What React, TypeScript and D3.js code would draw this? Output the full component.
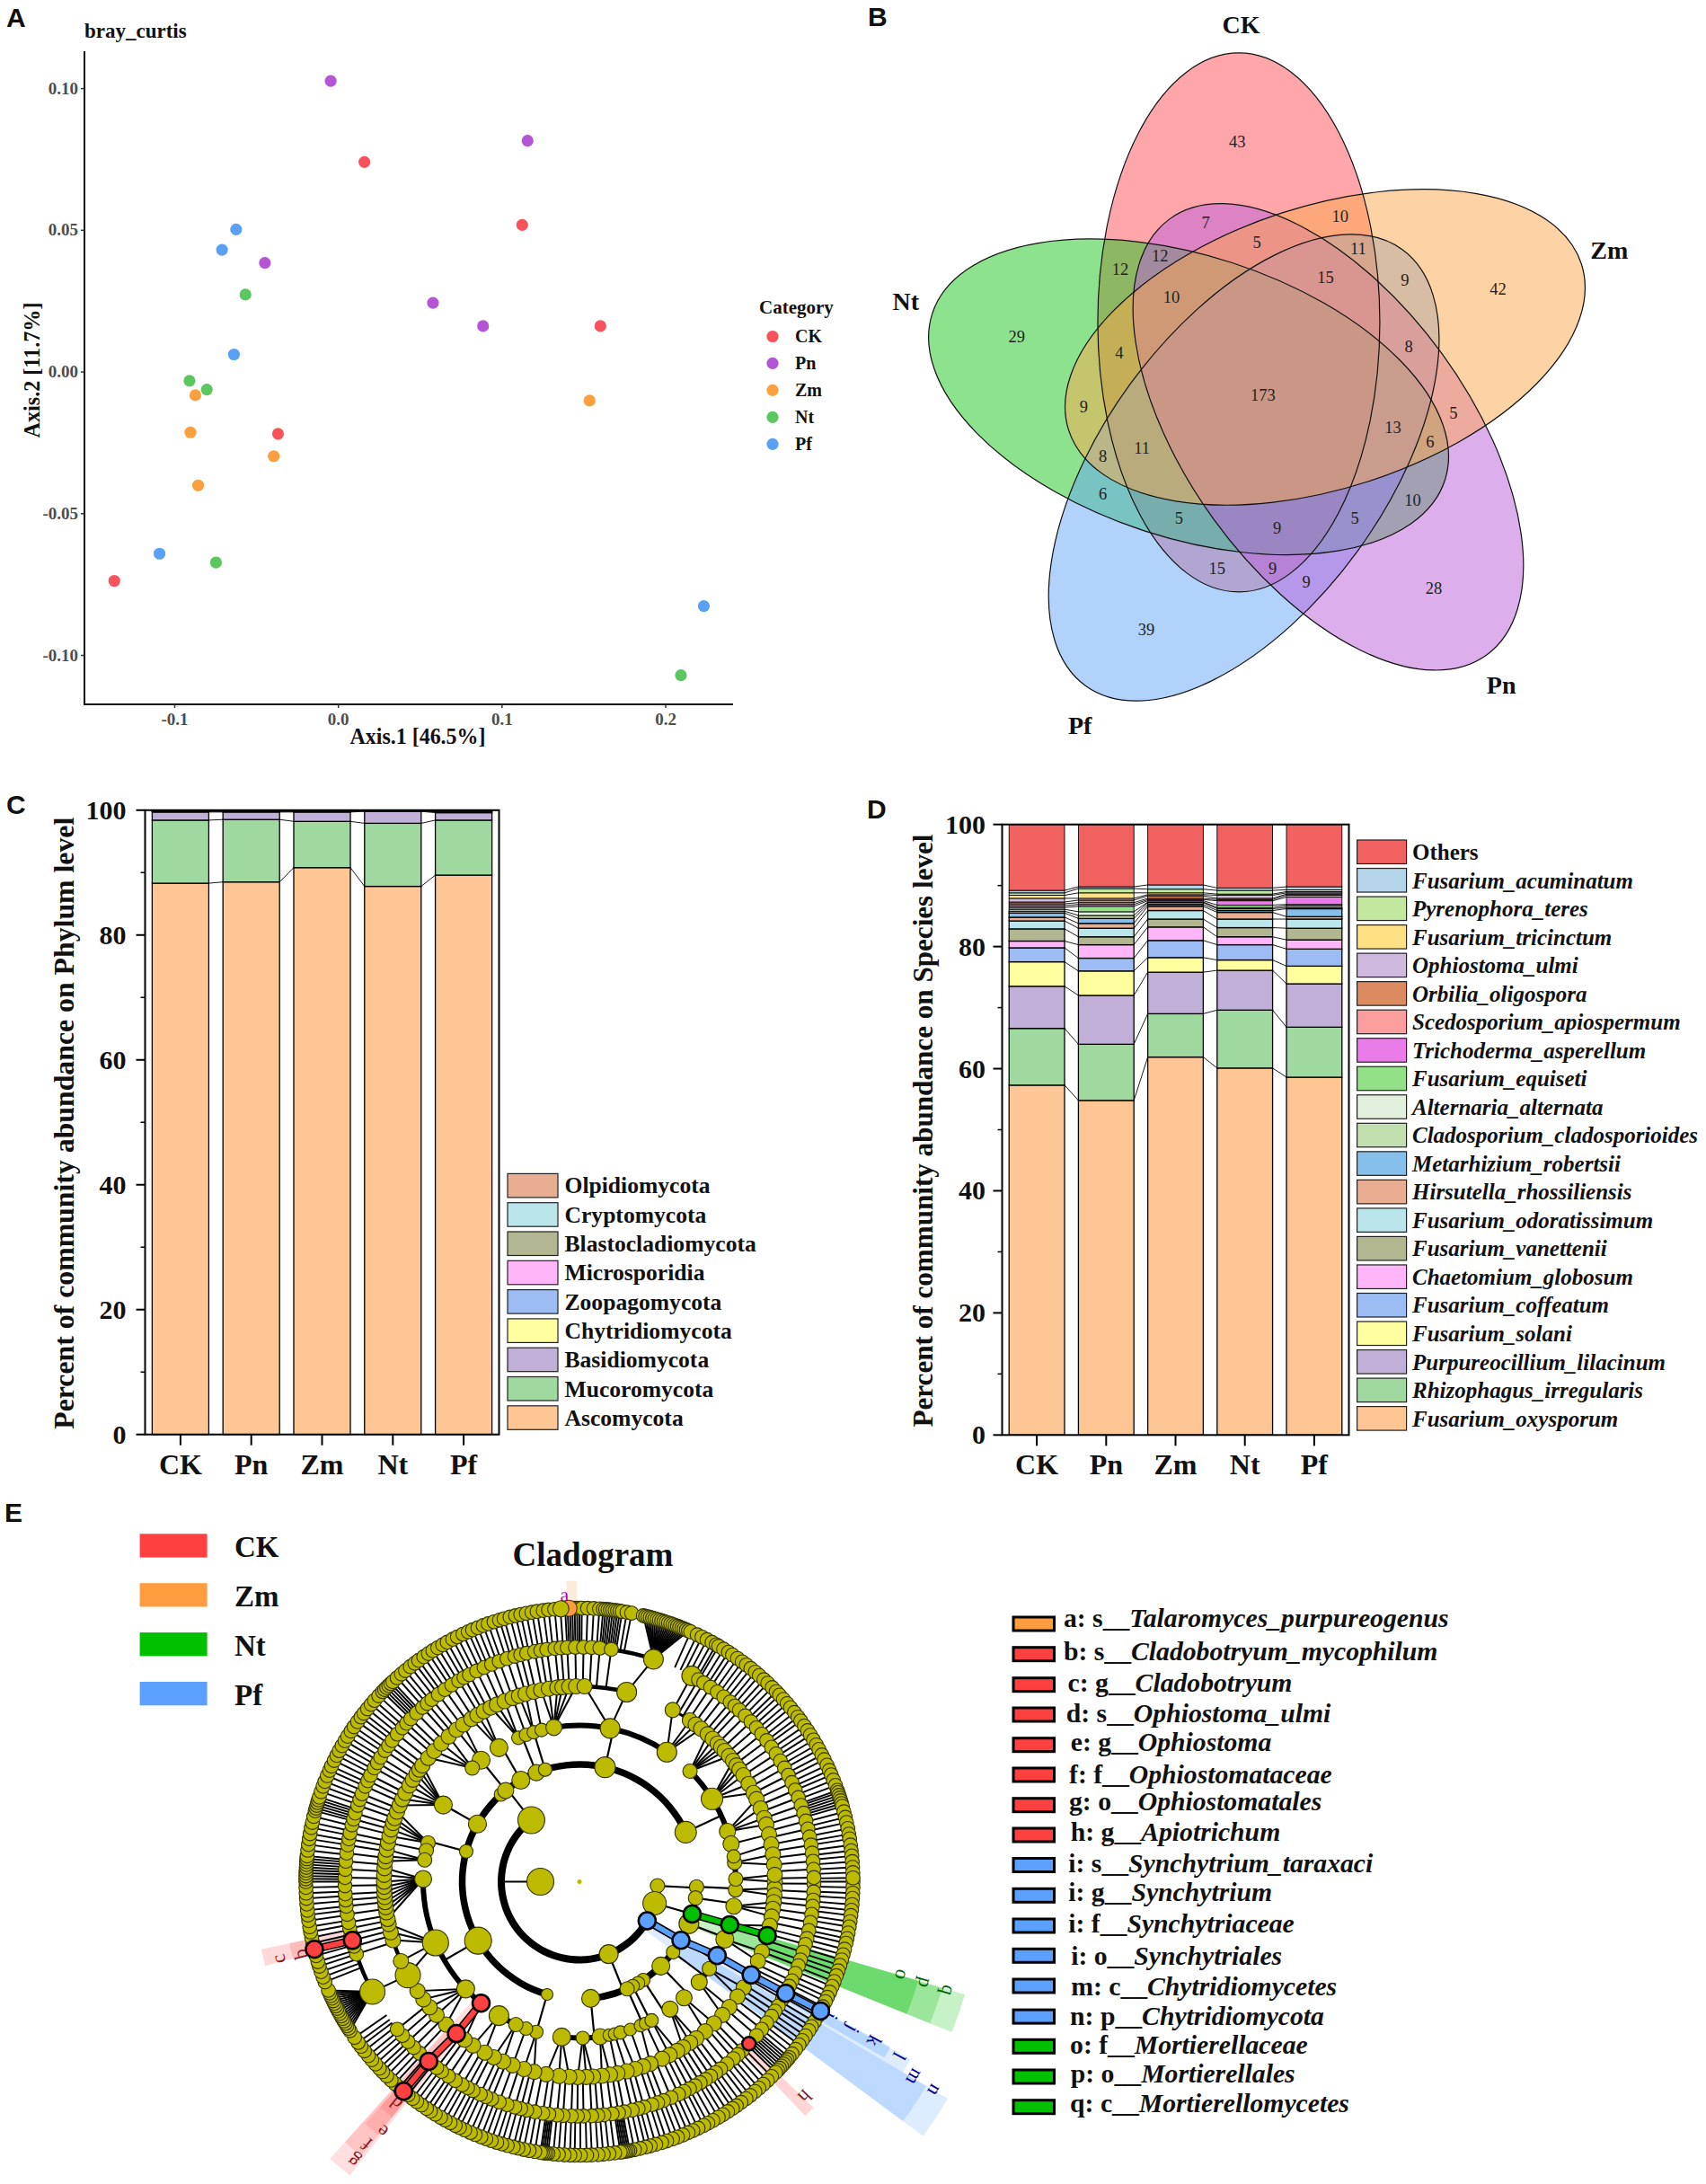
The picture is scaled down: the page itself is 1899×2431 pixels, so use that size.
import React from "react";
import * as d3 from "d3";

// ---------- Panel A data ----------
const ordCategories = ["CK", "Pn", "Zm", "Nt", "Pf"];
const ordColors = ["#F8535A", "#B455D6", "#FB9F3F", "#5CC761", "#5AA1F5"];
const ordCK = [[0.0159, 0.0741], [0.1123, 0.0519], [0.1601, 0.0162], [-0.0369, -0.0218], [-0.1369, -0.0737]];
const ordPn = [[-0.0047, 0.1027], [0.1156, 0.0816], [-0.0449, 0.0385], [0.0578, 0.0244], [0.0884, 0.0162]];
const ordZm = [[-0.0874, -0.0082], [-0.0904, -0.0213], [-0.0395, -0.0297], [-0.0857, -0.04], [0.1535, -0.0101]];
const ordNt = [[-0.0568, 0.0273], [-0.091, -0.0031], [-0.0804, -0.0062], [-0.0748, -0.0672], [0.2093, -0.107]];
const ordPf = [[-0.0625, 0.0503], [-0.0711, 0.0431], [-0.0638, 0.0062], [-0.1093, -0.0641], [0.2233, -0.0826]];
const ordSeries = [ordCK, ordPn, ordZm, ordNt, ordPf];
const xTicksA = [-0.1, 0, 0.1, 0.2];
const yTicksA = [0.1, 0.05, 0, -0.05, -0.1];

// ---------- Panel B data ----------
const vennCounts = [43, 7, 10, 5, 11, 12, 12, 15, 9, 10, 42, 29, 4, 8, 173, 9, 5, 13, 6, 11, 8, 6, 10, 5, 5, 9, 15, 9, 9, 28, 39];
const vennCountAt = [[705, 291], [647, 457], [894, 445], [741, 498], [927, 511], [563, 526], [490, 553], [867, 570], [1013, 576], [584, 610], [1184, 595], [300, 692], [488, 725], [1020, 713], [752, 812], [423, 836], [1102, 848], [991, 878], [1059, 908], [530, 920], [458, 938], [458, 1014], [1027, 1028], [598, 1064], [921, 1064], [778, 1084], [668, 1167], [770, 1167], [832, 1196], [1066, 1209], [538, 1293]];
const vennSets = ["CK", "Zm", "Pn", "Pf", "Nt"];
const vennFill = ["#FF4D55", "#FBA84C", "#BB5DD9", "#62A6F7", "#1CC81C"];
const vennSetAt = [[712, 52], [1388, 514], [1190, 1407], [416, 1491], [96, 619]];
const vennDrawOrder = [0, 4, 3, 2, 1];

// ---------- Panel C data (cumulative tops) ----------
const barGroups = ["CK", "Pn", "Zm", "Nt", "Pf"];
const phylumNames = ["Ascomycota", "Mucoromycota", "Basidiomycota", "Chytridiomycota", "Zoopagomycota", "Microsporidia", "Blastocladiomycota", "Cryptomycota", "Olpidiomycota"];
const phylumColors = ["#FDC694", "#9FD99F", "#C0AFD7", "#FFFFA0", "#9DBCF4", "#FEB6F9", "#B2B691", "#B9E5EB", "#E9AE91"];
const phylumAsco = [88.3, 88.5, 90.8, 87.8, 89.6];
const phylumMuco = [98.4, 98.5, 98.2, 97.9, 98.4];
const phylumBasi = [99.7, 99.7, 99.7, 99.8, 99.6];
const phylumChyt = [99.8, 99.8, 99.8, 99.85, 99.75];
const phylumZoop = [99.85, 99.85, 99.85, 99.9, 99.8];
const phylumMicr = [99.9, 99.9, 99.9, 99.92, 99.85];
const phylumBlas = [99.93, 99.93, 99.93, 99.95, 99.9];
const phylumCryp = [99.96, 99.96, 99.96, 99.97, 99.95];
const phylumOlpi = [100, 100, 100, 100, 100];
const phylumTops = [phylumAsco, phylumMuco, phylumBasi, phylumChyt, phylumZoop, phylumMicr, phylumBlas, phylumCryp, phylumOlpi];

// ---------- Panel D data (cumulative tops) ----------
const speciesNames = ["Fusarium_oxysporum", "Rhizophagus_irregularis", "Purpureocillium_lilacinum", "Fusarium_solani", "Fusarium_coffeatum", "Chaetomium_globosum", "Fusarium_vanettenii", "Fusarium_odoratissimum", "Hirsutella_rhossiliensis", "Metarhizium_robertsii", "Cladosporium_cladosporioides", "Alternaria_alternata", "Fusarium_equiseti", "Trichoderma_asperellum", "Scedosporium_apiospermum", "Orbilia_oligospora", "Ophiostoma_ulmi", "Fusarium_tricinctum", "Pyrenophora_teres", "Fusarium_acuminatum", "Others"];
const speciesColors = ["#FDC694", "#9FD99F", "#C0AFD7", "#FFFFA0", "#9DBCF4", "#FEB6F9", "#B2B691", "#B9E5EB", "#E9AE91", "#86BFE9", "#C2DFB0", "#E4F0DE", "#93E088", "#E97CE8", "#FC9E9E", "#DB8B5F", "#D0B9DE", "#FFE184", "#C2E8A0", "#B2D3E8", "#F0615F"];
const spOxy = [57.3, 54.8, 61.9, 60.1, 58.6];
const spRhi = [66.6, 64.0, 69.0, 69.6, 66.8];
const spPur = [73.5, 72.0, 75.8, 76.1, 73.9];
const spSol = [77.5, 76.0, 78.2, 77.8, 76.8];
const spCof = [79.8, 78.1, 81.0, 80.3, 79.6];
const spCha = [80.9, 80.3, 83.2, 81.6, 81.1];
const spVan = [82.9, 81.6, 84.5, 83.1, 83.0];
const spOdo = [84.2, 83.0, 85.9, 84.5, 84.5];
const spHir = [84.8, 83.8, 86.6, 85.6, 84.9];
const spMet = [85.5, 84.6, 86.9, 85.9, 86.2];
const spCla = [85.8, 85.1, 87.2, 86.2, 86.4];
const spAlt = [86.1, 85.7, 87.3, 86.4, 86.7];
const spEqu = [86.4, 86.6, 87.5, 86.8, 86.9];
const spTri = [86.7, 86.9, 87.7, 87.5, 88.1];
const spSce = [87.0, 87.2, 87.9, 87.7, 88.4];
const spOrb = [87.3, 87.6, 88.3, 87.9, 88.6];
const spUlm = [87.9, 87.9, 88.5, 88.4, 88.8];
const spTci = [88.4, 88.8, 88.8, 88.6, 89.0];
const spTer = [88.8, 89.5, 89.4, 89.2, 89.3];
const spAcu = [89.2, 89.8, 90.1, 89.6, 89.8];
const spOth = [100, 100, 100, 100, 100];
const speciesTops = [spOxy, spRhi, spPur, spSol, spCof, spCha, spVan, spOdo, spHir, spMet, spCla, spAlt, spEqu, spTri, spSce, spOrb, spUlm, spTci, spTer, spAcu, spOth];

// ---------- Panel E data ----------
const groupNames = ["CK", "Zm", "Nt", "Pf"];
const groupColors = ["#FF4040", "#FF9C40", "#00C000", "#5BA0FF"];
const cladeLetters = ["a", "b", "c", "d", "e", "f", "g", "h", "i", "i", "i", "i", "m", "n", "o", "p", "q"];
const cladeRanks = ["s", "s", "g", "s", "g", "f", "o", "g", "s", "g", "f", "o", "c", "p", "f", "o", "c"];
const cladeTaxa = ["Talaromyces_purpureogenus", "Cladobotryum_mycophilum", "Cladobotryum", "Ophiostoma_ulmi", "Ophiostoma", "Ophiostomataceae", "Ophiostomatales", "Apiotrichum", "Synchytrium_taraxaci", "Synchytrium", "Synchytriaceae", "Synchytriales", "Chytridiomycetes", "Chytridiomycota", "Mortierellaceae", "Mortierellales", "Mortierellomycetes"];
const cladeGroup = [1, 0, 0, 0, 0, 0, 0, 0, 3, 3, 3, 3, 3, 3, 2, 2, 2];

// tree: angle in degrees clockwise from +x; [angle, node size, parent angle]
const treeLevel2: number[][] = [[3, 8], [16, 13], [30, 10], [68, 10.5], [232, 15]];
const treeLevel3: number[][] = [[106, 6.5, 232], [149.8, 15, 232], [195, 7.5, 232], [209.5, 10, 232], [228, 7.5, 232], [231, 9, 232], [240, 10, 232], [248.4, 9, 232], [253, 7.5, 232], [282.6, 11.5, 232], [335, 12, 232], [37, 7.5, 68], [46, 10, 68], [57, 7.5, 68], [60, 7.5, 68], [63, 7.5, 68], [66, 8, 68], [84.5, 10, 68], [30, 9, 30], [16, 9, 16], [21, 11, 16], [2.5, 8, 3], [8, 8, 3]];
const treeLevel4: number[][] = [[315, 8, 335], [328, 12, 335], [341.2, 9, 335], [346, 9, 335], [247, 7.5, 253], [250, 7.5, 253], [253, 7.5, 253], [256, 7.5, 253], [260.6, 9, 282.6], [281.3, 11, 282.6], [304, 11, 282.6], [239, 10, 248.4], [231, 10, 240], [226.7, 8, 231], [209.4, 10, 209.5], [194.4, 8, 195], [191.5, 8, 195], [188, 8, 195], [181, 9.5, 149.8], [157, 14.5, 149.8], [136.7, 10, 149.8], [129, 8, 149.8], [106, 7.5, 106], [110, 7.5, 106], [114, 8, 106], [121, 11, 106], [96.5, 10, 84.5], [88.8, 7.5, 84.5], [82.4, 9, 84.5], [79, 7, 66], [77, 7, 66], [74.8, 7.5, 66], [71, 7, 66], [67, 7, 66], [65, 7, 66], [62.5, 7.5, 63], [54.6, 9, 57], [48, 9, 46], [40, 9, 37], [33.8, 8, 37], [28.2, 8, 30], [16, 8, 16], [21.6, 10, 21], [9, 9, 8], [3, 8, 2.5], [359, 8, 2.5], [353, 8, 2.5], [350.7, 7.5, 2.5]];
const treeLevel5 = [0, 2, 4, 6, 8, 10.3, 13, 16.1, 21, 24, 28.5, 32.8, 36, 39.9, 43, 46.5, 50, 53.3, 55.5, 58, 60, 62.5, 65, 68.7, 71, 73.4, 76, 78.8, 81, 83.4, 86, 88, 90.5, 93, 96, 99.8, 103.4, 106.5, 110, 113, 116, 119, 123, 126, 129, 133, 137, 140, 143, 146, 151.4, 156, 162.6, 165, 167.5, 169, 171, 172.5, 174, 175.5, 177, 178.5, 180, 182, 184, 186, 187.5, 189.5, 191.5, 193.5, 195.5, 197.5, 199, 201, 203, 205, 207, 209.5, 211.5, 213.5, 215, 216.5, 219.3, 222, 225, 228, 231, 233.5, 236.4, 238.5, 240.7, 243, 245, 247.5, 250, 252, 254, 256.5, 258.7, 261, 263.5, 265, 267, 269, 271.5, 284, 298.5, 304.4, 306.5, 308.5, 311, 313, 315, 316.5, 318, 320, 321.8, 323.5, 325, 327, 330, 333, 335, 338, 341, 343, 346, 349, 352, 355, 358];
const treeLevel6 = [0.5, 2.5, 4.5, 6, 8, 10, 12, 14, 15.5, 17.5, 19.5, 21, 23, 25, 26.5, 28.4, 30, 32, 33.5, 35, 37, 39, 41, 43.7, 46, 47.5, 49, 51, 53, 54.5, 56, 57.5, 59, 60.5, 62, 63.5, 65, 67, 69, 70.5, 72, 74, 75.5, 77, 79, 80.4, 82, 84, 85.5, 87, 89, 90.5, 92, 94, 95.5, 97.5, 99, 101, 103, 104.5, 106, 108, 110, 112, 113.5, 115, 117, 118.5, 120, 122, 124, 126, 127.5, 130, 133, 135, 137, 139, 141, 152, 162, 164, 165.5, 167, 168.5, 170, 172, 174, 175.5, 177, 179, 181, 183, 185, 187, 189, 190.5, 192, 194, 195.5, 197, 199, 200.5, 202, 204, 205.5, 207, 209, 210.5, 212, 214, 215.5, 217, 219, 221, 222.5, 224, 226, 228, 229.5, 231, 233, 235, 237, 239, 240.5, 242, 244, 246, 248, 250, 252, 254, 255.5, 257, 259, 260.5, 262, 264, 265.5, 267, 269, 271, 273, 275, 277.8, 288.4, 298.6, 300.5, 302, 304, 306, 308, 310, 311.5, 313, 315, 317, 319, 321, 323, 325, 327, 329, 331, 333, 335, 337, 339, 341, 343, 345, 347, 349, 351, 353, 355, 357, 359];
const treeLevel7 = [0, 1.2, 2.4, 3.5, 4.8, 6, 7.1, 8.4, 9.5, 10.8, 12, 13, 14.3, 15.5, 16.6, 17.8, 19, 20.1, 21.4, 22.5, 23.8, 25, 26, 27.2, 28.2, 29.5, 30.8, 32, 33, 34.3, 35.5, 36.6, 37.8, 39, 40, 40.6, 41.2, 41.8, 42.4, 43, 43.6, 44.2, 45.4, 46.6, 47.8, 49, 50.1, 51.4, 52.5, 53.8, 55, 56, 57.2, 58.4, 59.5, 60.8, 62, 63, 64.3, 65.5, 66.6, 67.8, 69, 70.1, 71.4, 72.5, 73.8, 75, 76, 77.2, 78.4, 79.4, 79.8, 80.2, 80.6, 81, 81.4, 82.6, 83.8, 85, 86.1, 87.4, 88.5, 89.8, 91, 92, 93.2, 94.4, 95.5, 96.6, 97, 97.4, 97.8, 98.2, 99.4, 100.6, 101.8, 103, 104, 105.3, 106.5, 107.6, 108.8, 110, 111.1, 112.4, 113.5, 114.8, 116, 117, 118.2, 119.4, 120.5, 121.8, 123, 124, 125.3, 126.5, 127.6, 128.8, 129.9, 131.2, 132.4, 133.5, 134.8, 136, 137, 138.2, 139.4, 140.5, 141.8, 143, 144, 145.3, 147, 147.6, 148.2, 148.8, 149.4, 150, 150.6, 151.2, 151.8, 152.4, 153, 153.6, 154.2, 154.8, 155.4, 156, 156.6, 158.5, 159.6, 160.8, 162, 163, 164.3, 165.7, 167, 168.2, 169.4, 170.5, 171.8, 173, 174, 175.3, 176.5, 177.6, 178.8, 180, 180.6, 181.2, 181.8, 182.4, 183, 183.6, 184.2, 184.8, 185.4, 186.6, 187.8, 189, 190.1, 191.4, 192.5, 193.8, 195, 195.6, 196.2, 196.8, 197.4, 198, 199.2, 200.4, 201.5, 202.8, 204, 205, 206.3, 207.5, 208.6, 209.8, 211, 212.1, 213.4, 214.5, 215.8, 217, 218, 219.2, 220.4, 221.5, 222.8, 224, 224.6, 225.2, 225.8, 226.4, 227, 228.2, 229.4, 230.5, 231.8, 233, 234, 235.3, 236.5, 237.6, 238.8, 240, 241.1, 242.4, 243.5, 244.8, 246, 247, 248.2, 249.4, 250.5, 251.8, 253, 254, 255.3, 256.5, 257.6, 258.8, 260, 261.1, 262.4, 263.5, 264.8, 266, 267, 267.5, 268, 268.5, 269, 269.5, 270, 270.5, 271.7, 273, 274.2, 275, 275.5, 276, 276.5, 277, 277.5, 278, 278.5, 279, 280, 281, 283.5, 284, 284.5, 285, 285.5, 286, 286.5, 287, 287.5, 288, 288.5, 289, 289.5, 290, 290.5, 291, 291.5, 292, 292.5, 293, 293.5, 294, 295.5, 296.6, 297.8, 299, 300, 300.6, 301.8, 303, 304, 305.3, 306.5, 307.6, 308.8, 310, 311.1, 312.4, 313.5, 314.8, 316, 317, 318.2, 319.4, 320.5, 321.8, 323, 324, 325.3, 326.5, 327.6, 328.8, 330, 331.1, 332.4, 333.5, 334.8, 336, 337, 338.2, 339.4, 340.5, 341, 341.6, 342.2, 342.8, 343.4, 344, 345.2, 346.4, 347.5, 348.8, 350, 351, 352.3, 353.5, 354.6, 355.8, 357, 358.1, 359.2];
const largeLevel5 = [[284, 11], [151.4, 14]];
const largeLevel6 = [[288.4, 11], [298.6, 11], [152, 14]];
const fanParents = [288.4, 152];
const heavyArcs = [[217.5, 271.5, 284, 4.5], [261, 277.8, 288.4, 4.5], [217.5, 151.4, 162.6, 4.5], [261, 152, 162, 4.5], [217.5, 298.5, 304.4, 3]];
const chainBlue = [[87, 30], [130.5, 30], [174, 28.2], [217.5, 28.5], [261, 28.4], [304.5, 28.2]];
const chainGreen = [[130.5, 16], [174, 16], [217.5, 16]];
const chainRedLong = [[174, 129], [217.5, 129], [261, 130], [304.5, 130]];
const chainRedShort = [[261, 165.5], [304.5, 165.7]];
const chainRedSingle = [[261, 43.7]];
const orangeNode = [304.5, 267.8];
const orangeCover = [304.5, 266.1];
// wedge: group index, from angle, to angle, inner radius, outer radius, opacity
const cladeWedges = [
  [3, 30.5, 36.5, 87, 476, 0.2], [3, 30.5, 36.5, 130, 448, 0.25], [3, 28.2, 30.5, 174, 418, 0.2], [3, 28, 30, 218, 392, 0.3],
  [2, 16.3, 22, 130, 447, 0.22], [2, 16.3, 22, 174, 421, 0.22], [2, 16.3, 22, 217, 393, 0.3],
  [0, 44, 46, 261, 362, 0.22],
  [0, 128, 132, 174, 415, 0.17], [0, 128.5, 132, 217, 390, 0.17], [0, 128.5, 131.5, 261, 360, 0.17], [0, 128.5, 131.5, 304, 335, 0.17],
  [0, 165, 168, 261, 362, 0.2], [0, 165, 168, 304, 330, 0.2],
  [1, 267.5, 269.5, 304, 335, 0.2],
];
const wedgeLetters = ["a", "b", "c", "d", "e", "f", "g", "h", "i", "j", "k", "l", "m", "n", "o", "p", "q"];
const wedgeLetterAngle = [267, 165.4, 165.6, 129.6, 128.3, 129, 129, 43.6, 28, 28.3, 28.4, 28.6, 30.2, 30.4, 16.1, 16.3, 16.4];
const wedgeLetterRadius = [320, 321, 346, 320, 354.6, 376, 400.6, 346.7, 318, 346, 373, 405.7, 432, 459, 374, 401.5, 428.7];
const wedgeLetterColor = ["#B000C0", "#8B1A1A", "#8B1A1A", "#8B1A1A", "#8B1A1A", "#8B1A1A", "#8B1A1A", "#8B1A1A", "#00008B", "#00008B", "#00008B", "#00008B", "#00008B", "#00008B", "#006400", "#006400", "#006400"];

// ---------- layout constants ----------
const SERIF = "'Liberation Serif', serif";
const SANS = "'Liberation Sans', sans-serif";
const rad = Math.PI / 180;
const CX = 645, CY = 2094.5;
const at = (r: number, a: number) => {
  const [x, y] = d3.pointRadial((a + 90) * rad, r);
  return [CX + x, CY + y];
};
const angDiff = (a: number, b: number) => Math.abs(((a - b + 540) % 360) - 180);
const nearest = (list: number[], a: number) => d3.least(list, (p) => angDiff(p, a)) as number;

const Txt = (p: any) => {
  const { x, y, fs, w = "bold", i, fill = "#111", anchor = "start", rot, family = SERIF, len, central, children } = p;
  return (
    <text
      x={rot === undefined ? x : 0}
      y={rot === undefined ? y : 0}
      transform={rot === undefined ? undefined : `translate(${x},${y}) rotate(${rot})`}
      fontFamily={family}
      fontSize={fs}
      fontWeight={w}
      fontStyle={i ? "italic" : "normal"}
      fill={fill}
      textAnchor={anchor}
      textLength={len}
      lengthAdjust={len ? "spacingAndGlyphs" : undefined}
      dominantBaseline={central ? "central" : undefined}
    >
      {children}
    </text>
  );
};

const PanelA = () => {
  const x = d3.scaleLinear().domain([-0.1, 0.2]).range([194.5, 741]);
  const y = d3.scaleLinear().domain([0.1, -0.1]).range([98.6, 729.5]);
  const L = 94, R = 816, T = 57, B = 784;
  return (
    <g>
      <Txt x={94} y={42} fs={23}>bray_curtis</Txt>
      <path d={`M${L},${T}V${B}H${R}`} fill="none" stroke="#111" strokeWidth={2} />
      {xTicksA.map((t) => (
        <g key={t}>
          <line x1={x(t)} x2={x(t)} y1={B} y2={B + 4} stroke="#333" strokeWidth={1.5} />
          <Txt x={x(t)} y={807} fs={19} anchor="middle" fill="#4d4d4d">{t === 0 ? "0.0" : String(t)}</Txt>
        </g>
      ))}
      {yTicksA.map((t) => (
        <g key={t}>
          <line x1={L - 4} x2={L} y1={y(t)} y2={y(t)} stroke="#333" strokeWidth={1.5} />
          <Txt x={87} y={y(t) + 6} fs={19} anchor="end" fill="#4d4d4d">{t.toFixed(2)}</Txt>
        </g>
      ))}
      <Txt x={465} y={828} fs={26} anchor="middle" len={151}>Axis.1 [46.5%]</Txt>
      <Txt x={44} y={412} fs={26} anchor="middle" rot={-90} len={151}>Axis.2 [11.7%]</Txt>
      {ordSeries.map((pts, k) =>
        pts.map((d, j) => <circle key={`${k}${j}`} cx={x(d[0])} cy={y(d[1])} r={6.6} fill={ordColors[k]} />)
      )}
      <Txt x={845} y={349} fs={21}>Category</Txt>
      {ordCategories.map((c, k) => {
        const ly = d3.scaleLinear().domain([0, 4]).range([374.5, 494.3])(k);
        return (
          <g key={c}>
            <circle cx={860} cy={ly} r={6.6} fill={ordColors[k]} />
            <Txt x={885} y={ly + 6.5} fs={20}>{c}</Txt>
          </g>
        );
      })}
    </g>
  );
};

const PanelB = () => {
  const vx = (z: number) => 950 + z / 1.65;
  const vy = (z: number) => z / 1.845;
  const C = [1408, 438.8];
  const d = 85;
  const ex = d * Math.cos(-110 * rad);
  const ey = d * Math.sin(-110 * rad);
  return (
    <g>
      {vennDrawOrder.map((k) => (
        <ellipse key={k} cx={ex} cy={ey} rx={157} ry={300} transform={`translate(${C[0]},${C[1]}) rotate(${72 * k})`} fill={vennFill[k]} fillOpacity={0.5} stroke="none" />
      ))}
      {vennDrawOrder.map((k) => (
        <ellipse key={k} cx={ex} cy={ey} rx={157} ry={300} transform={`translate(${C[0]},${C[1]}) rotate(${72 * k})`} fill="none" stroke="#111" strokeWidth={1.2} />
      ))}
      {vennCounts.map((c, i) => (
        <Txt key={i} x={vx(vennCountAt[i][0])} y={vy(vennCountAt[i][1]) + 6} fs={18.5} w="normal" anchor="middle" fill="#222">{c}</Txt>
      ))}
      {vennSets.map((s, i) => (
        <Txt key={s} x={vx(vennSetAt[i][0])} y={vy(vennSetAt[i][1]) + 9} fs={28} anchor="middle">{s}</Txt>
      ))}
    </g>
  );
};

const StackPanel = (p: any) => {
  const { L, R, T, B, tops, colors, names, yTitle, yTitleX, yTitleLen, tickX, italicLegend, legX, legW, legTop, legStep, labelX, legFs, order } = p;
  const x = d3.scaleBand<string>().domain(barGroups).range([L, R]).paddingInner(0.2).paddingOuter(0.1);
  const y = d3.scaleLinear().domain([0, 100]).range([B, T]);
  const bw = x.bandwidth();
  const major = d3.range(0, 101, 20);
  const minor = d3.range(10, 100, 20);
  return (
    <g>
      {tops.map((row: number[], s: number) =>
        barGroups.map((g, i) => {
          const prev = s === 0 ? 0 : tops[s - 1][i];
          return (
            <rect key={`${s}${g}`} x={x(g)} width={bw} y={y(row[i])} height={Math.max(0, y(prev) - y(row[i]))} fill={colors[s]} stroke="#000" strokeWidth={s < tops.length / 2 ? 1.3 : 0.9} />
          );
        })
      )}
      {tops.map((row: number[], s: number) =>
        barGroups.slice(1).map((g, i) => (
          <line key={`c${s}${g}`} x1={(x(barGroups[i]) as number) + bw} x2={x(g)} y1={y(row[i])} y2={y(row[i + 1])} stroke="#000" strokeWidth={0.9} />
        ))
      )}
      <rect x={L} y={T} width={R - L} height={B - T} fill="none" stroke="#000" strokeWidth={2} />
      {major.map((t) => (
        <g key={t}>
          <line x1={L - 10} x2={L} y1={y(t)} y2={y(t)} stroke="#000" strokeWidth={2} />
          <Txt x={tickX} y={y(t) + 10} fs={30} anchor="end">{t}</Txt>
        </g>
      ))}
      {minor.map((t) => (
        <line key={t} x1={L - 5} x2={L} y1={y(t)} y2={y(t)} stroke="#000" strokeWidth={1.5} />
      ))}
      {barGroups.map((g) => (
        <g key={g}>
          <line x1={(x(g) as number) + bw / 2} x2={(x(g) as number) + bw / 2} y1={B} y2={B + 12} stroke="#000" strokeWidth={2} />
          <Txt x={(x(g) as number) + bw / 2} y={1640.6} fs={32} anchor="middle">{g}</Txt>
        </g>
      ))}
      <Txt x={yTitleX} y={(T + B) / 2 + 1} fs={32} anchor="middle" rot={-90} len={yTitleLen}>{yTitle}</Txt>
      {order.map((s: number, i: number) => (
        <g key={s}>
          <rect x={legX} y={legTop + i * legStep} width={legW} height={26.5} fill={colors[s]} stroke="#222" strokeWidth={1.2} />
          <Txt x={labelX} y={legTop + i * legStep + 22} fs={legFs} i={italicLegend && names[s] !== "Others"}>{names[s]}</Txt>
        </g>
      ))}
    </g>
  );
};

const PanelE = () => {
  const size5 = new Map(largeLevel5.map((d) => [d[0], d[1]]));
  const size6 = new Map(largeLevel6.map((d) => [d[0], d[1]]));
  const arc = d3.arc();
  const arcPath = (r: number, a0: number, a1: number, w: number) =>
    arc({ innerRadius: r - w / 2, outerRadius: r + w / 2, startAngle: (a0 + 90) * rad, endAngle: (a1 + 90) * rad }) as string;
  const level4Angles = treeLevel4.map((d) => d[0]);
  // arcs joining children of one parent on the child's ring
  const arcsFor = (nodes: number[][], r: number, w: number) =>
    Array.from(d3.group(nodes, (d) => d[2]), ([parent, kids]) => {
      const rel = kids.map((k) => ((k[0] - parent + 540) % 360) - 180);
      return <path key={`${r}-${parent}`} d={arcPath(r, parent + (d3.min(rel) as number), parent + (d3.max(rel) as number), w)} transform={`translate(${CX},${CY})`} fill="#000" />;
    });
  const stems = (nodes: number[][], r0: number, r1: number) =>
    Array.from(new Set(nodes.map((d) => d[2]))).map((parent) => {
      const a = at(r0, parent);
      const b = at(r1, parent);
      return <line key={`${r1}s${parent}`} x1={a[0]} y1={a[1]} x2={b[0]} y2={b[1]} stroke="#000" strokeWidth={2.2} />;
    });
  // straight line to nearest parent when it is one of the listed fan parents, otherwise a radial ray
  const rays = (kids: number[], rc: number, parents: number[], rp: number, w: number, always: boolean, fan: number[]) =>
    kids.map((k) => {
      const parent = nearest(parents, k);
      const a = at(rc, k);
      const b = at(rp, always || fan.includes(parent) || fan.includes(k) ? parent : k);
      return <line key={`${rc}r${k}`} x1={a[0]} y1={a[1]} x2={b[0]} y2={b[1]} stroke="#000" strokeWidth={w} />;
    });
  const node = (r: number, a: number, s: number, fill = "#BDBB00", sw = 1.1, stroke = "#333300") => {
    const p = at(r, a);
    return <circle key={`${r}n${a}`} cx={p[0]} cy={p[1]} r={s} fill={fill} stroke={stroke} strokeWidth={sw} />;
  };
  const chain = (pts: number[][], color: string) => {
    const path = d3.line()(pts.map((d) => at(d[0], d[1]) as [number, number])) as string;
    return (
      <g>
        {pts.length > 1 && <path d={path} fill="none" stroke="#000" strokeWidth={9} />}
        {pts.length > 1 && <path d={path} fill="none" stroke={color} strokeWidth={6} />}
        {pts.map((d) => node(d[0], d[1], pts.length === 1 ? 7.5 : 9.5, color, 2.5, "#000"))}
      </g>
    );
  };
  return (
    <g>
      {groupNames.map((g, i) => (
        <g key={g}>
          <rect x={155.6} y={d3.scaleLinear().domain([0, 3]).range([1707.3, 1872])(i)} width={75} height={26.3} fill={groupColors[i]} />
          <Txt x={261} y={d3.scaleLinear().domain([0, 3]).range([1733, 1898])(i)} fs={33}>{g}</Txt>
        </g>
      ))}
      <Txt x={660} y={1743} fs={37} anchor="middle">Cladogram</Txt>
      {cladeWedges.map((d, i) => (
        <path key={i} d={arcPath((d[3] + d[4]) / 2, d[1], d[2], d[4] - d[3])} transform={`translate(${CX},${CY})`} fill={groupColors[d[0]]} fillOpacity={d[5]} />
      ))}
      {wedgeLetters.map((l, i) => {
        const p = at(wedgeLetterRadius[i], wedgeLetterAngle[i]);
        return (
          <Txt key={i} x={p[0]} y={p[1]} fs={22} w="normal" anchor="middle" central rot={wedgeLetterAngle[i] + 90} fill={wedgeLetterColor[i]}>{l}</Txt>
        );
      })}
      {rays(treeLevel7, 304.5, treeLevel6, 261, 1.9, false, fanParents)}
      {rays(treeLevel6, 261, treeLevel5, 217.5, 2, false, fanParents)}
      {rays(treeLevel5, 217.5, level4Angles, 174, 2, true, [])}
      {stems(treeLevel4, 130.5, 174)}
      {stems(treeLevel3, 87, 130.5)}
      <line x1={at(43.5, 180)[0]} y1={at(43.5, 180)[1]} x2={at(87, 180)[0]} y2={at(87, 180)[1]} stroke="#000" strokeWidth={2.2} />
      <path d={arcPath(87, 3, 232, 8)} transform={`translate(${CX},${CY})`} fill="#000" />
      {arcsFor(treeLevel3, 130.5, 7.5)}
      {arcsFor(treeLevel4, 174, 6)}
      {heavyArcs.map((d, i) => (
        <path key={i} d={arcPath(d[0], d[1], d[2], d[3])} transform={`translate(${CX},${CY})`} fill="#000" />
      ))}
      {treeLevel7.map((a) => node(304.5, a, 7.8))}
      {node(orangeNode[0], orangeNode[1], 9, groupColors[1], 1)}
      {node(orangeCover[0], orangeCover[1], 9)}
      {treeLevel6.map((a) => node(261, a, size6.get(a) ?? 7.8))}
      {treeLevel5.map((a) => node(217.5, a, size5.get(a) ?? 8.5))}
      {treeLevel4.map((d) => node(174, d[0], d[1]))}
      {treeLevel3.map((d) => node(130.5, d[0], d[1]))}
      {treeLevel2.map((d) => node(87, d[0], d[1]))}
      {node(43.5, 180, 15)}
      <circle cx={CX} cy={CY} r={2.5} fill="#BDBB00" />
      {chain(chainRedLong, groupColors[0])}
      {chain(chainRedShort, groupColors[0])}
      {chain(chainRedSingle, groupColors[0])}
      {chain(chainGreen, groupColors[2])}
      {chain(chainBlue, groupColors[3])}
      {cladeTaxa.map((t, i) => {
        const swatchY = cladeSwatchY[i];
        return (
          <g key={t}>
            <rect x={1128} y={swatchY - 7.5} width={45.5} height={15} fill={groupColors[cladeGroup[i]]} stroke="#000" strokeWidth={3} />
            <text x={1100 + cladeLabelX[i] / 2.8} y={cladeBaseline[i]} fontFamily={SERIF} fontSize={29.7} fontWeight="bold" fill="#111">
              {cladeLetters[i]}: {cladeRanks[i]}__<tspan fontStyle="italic">{t}</tspan>
            </text>
          </g>
        );
      })}
    </g>
  );
};
const cladeSwatchY = [1807.5, 1841.2, 1875.2, 1908.5, 1942.2, 1975.5, 2009.2, 2042.5, 2076, 2109.8, 2143.5, 2176.8, 2210.5, 2244.6, 2277.8, 2311.5, 2345.2];
const cladeBaseline = [1811, 1847.7, 1882.9, 1917.3, 1949.1, 1984.7, 2014.9, 2048.6, 2083.8, 2115.6, 2150.8, 2187.2, 2220.8, 2254, 2285.9, 2318.4, 2350.6];
const cladeLabelX = [235, 235, 248, 243, 257, 252, 252, 257, 250, 250, 250, 258, 258, 255, 255, 257, 255];

export default function App() {
  return (
    <svg width={1899} height={2431} viewBox="0 0 1899 2431" style={{ position: "absolute", left: 0, top: 0, display: "block", background: "#fff" }}>
      <Txt x={7} y={30} fs={30} family={SANS}>A</Txt>
      <Txt x={966} y={29} fs={30} family={SANS}>B</Txt>
      <Txt x={7} y={906} fs={30} family={SANS}>C</Txt>
      <Txt x={965} y={911} fs={30} family={SANS}>D</Txt>
      <Txt x={5} y={1694} fs={30} family={SANS}>E</Txt>
      <PanelA />
      <PanelB />
      <StackPanel L={161.5} R={555.5} T={901.8} B={1596.7} tops={phylumTops} colors={phylumColors} names={phylumNames}
        yTitle="Percent of community abundance on Phylum level" yTitleX={82} yTitleLen={681} tickX={140.6}
        legX={565} legW={56} legTop={1306.4} legStep={32.3} labelX={628.5} legFs={25.6} order={[8, 7, 6, 5, 4, 3, 2, 1, 0]} />
      <StackPanel L={1115.5} R={1501.5} T={917.7} B={1597.3} tops={speciesTops} colors={speciesColors} names={speciesNames}
        yTitle="Percent of community abundance on Species level" yTitleX={1038} yTitleLen={660} tickX={1097} italicLegend
        legX={1510.6} legW={55} legTop={935} legStep={31.53} labelX={1572} legFs={25} order={d3.range(20, -1, -1)} />
      <PanelE />
    </svg>
  );
}
